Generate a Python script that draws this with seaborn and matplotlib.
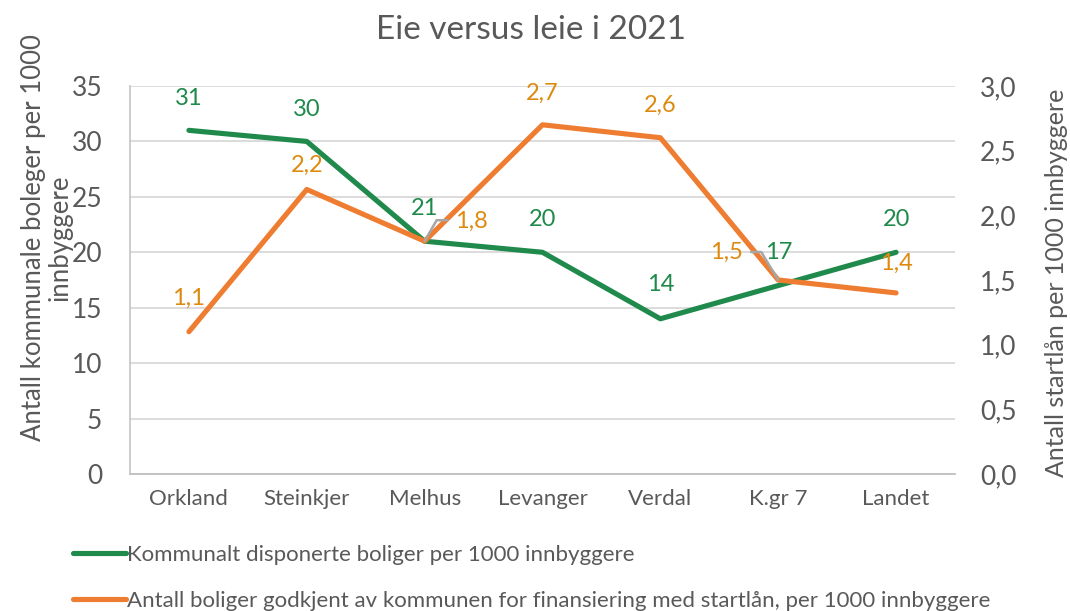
import matplotlib
matplotlib.use("Agg")
import matplotlib.pyplot as plt
from matplotlib.lines import Line2D
import seaborn as sns
import pandas as pd

# Data
kommuner = ["Orkland", "Steinkjer", "Melhus", "Levanger", "Verdal", "K.gr 7", "Landet"]
kommunale_boliger = [31, 30, 21, 20, 14, 17, 20]
startlan_boliger = [1.1, 2.2, 1.8, 2.7, 2.6, 1.5, 1.4]

serie_gronn = "Kommunalt disponerte boliger per 1000 innbyggere"
serie_oransje = "Antall boliger godkjent av kommunen for finansiering med startlån, per 1000 innbyggere"

GREEN = "#1F8A4C"
ORANGE = "#EE7D31"
GREEN_TXT = "#1E8A4A"
ORANGE_TXT = "#DE8A10"
GRAY_TXT = "#595959"
GRID = "#D9D9D9"

sns.set_style("white")
plt.rcParams["font.family"] = ["Lato", "DejaVu Sans"]

df = pd.DataFrame({"kommune": kommuner, "pos": range(len(kommuner)),
                   "kommunale": kommunale_boliger, "startlan": startlan_boliger})

fig = plt.figure(figsize=(10.70, 6.11), dpi=100)
ax = fig.add_axes([130 / 1070, 1 - 474 / 611, 825 / 1070, 388 / 611])
ax2 = ax.twinx()

LW = 3.7
sns.lineplot(data=df, x="pos", y="kommunale", ax=ax, color=GREEN, lw=LW,
             solid_capstyle="round", zorder=3)
sns.lineplot(data=df, x="pos", y="startlan", ax=ax2, color=ORANGE, lw=LW,
             solid_capstyle="round", zorder=3)

ax.set_xlim(-0.5, len(kommuner) - 0.5)
ax.set_ylim(0, 35)
ax2.set_ylim(0, 3.0)
ax.set_yticks(range(0, 36, 5))
ax2.set_yticks([i * 0.5 for i in range(7)])
ax2.set_yticklabels([f"{v:.1f}".replace(".", ",") for v in ax2.get_yticks()])
ax.set_xticks(range(len(kommuner)))
ax.set_xticklabels(kommuner)

ax.grid(axis="y", color=GRID, lw=1.3, zorder=0)
ax.set_axisbelow(True)
for a in (ax, ax2):
    for s in a.spines.values():
        s.set_visible(False)
ax.spines["left"].set_visible(True)
ax.spines["left"].set_color("#C8C8C8")
ax.spines["left"].set_linewidth(1.3)
ax.spines["bottom"].set_visible(True)
ax.spines["bottom"].set_color("#BFBFBF")
ax.spines["bottom"].set_linewidth(1.3)

ax.tick_params(axis="y", length=0, pad=20, labelsize=19, labelcolor=GRAY_TXT)
ax.tick_params(axis="x", length=0, pad=11, labelsize=16, labelcolor=GRAY_TXT)
ax2.tick_params(axis="y", length=0, pad=18, labelsize=19, labelcolor=GRAY_TXT)
ax.set_xlabel("")
ax.set_ylabel("")
ax2.set_ylabel("")

# Data labels (offsets in pixels relative to each point)
green_off = [(0, -32), (0, -32), (0, -33), (0, -33), (0, -34), (0, -33), (0, -33)]
orange_off = [(0, -33), (0, -24), (47, -20), (0, -31), (0, -32), (-52, -28), (0, -30)]
px = 72 / 100
for i, v in enumerate(kommunale_boliger):
    dx, dy = green_off[i]
    ax.annotate(f"{v}", (i, v), xytext=(dx * px, -dy * px), textcoords="offset points",
                ha="center", va="center", fontsize=17, color=GREEN_TXT, zorder=5)
for i, v in enumerate(startlan_boliger):
    dx, dy = orange_off[i]
    ax2.annotate(f"{v:.1f}".replace(".", ","), (i, v), xytext=(dx * px, -dy * px),
                 textcoords="offset points", ha="center", va="center",
                 fontsize=17, color=ORANGE_TXT, zorder=5)


# Leader lines for the moved labels
def leader(a, i, v, pts):
    x0, y0 = a.transData.transform((i, v))
    xs, ys = [x0], [y0]
    for dx, dy in pts:
        xs.append(x0 + dx)
        ys.append(y0 - dy)
    inv = a.transData.inverted()
    data = [inv.transform((xx, yy)) for xx, yy in zip(xs, ys)]
    a.plot([d[0] for d in data], [d[1] for d in data], color="#A6A6A6", lw=1.8, zorder=4)


fig.canvas.draw()
leader(ax2, 2, startlan_boliger[2], [(12, -21), (23, -21)])
leader(ax2, 5, startlan_boliger[5], [(-17, -28), (-27, -28)])

fig.text(531 / 1070, 1 - 30 / 611, "Eie versus leie i 2021", ha="center", va="center",
         fontsize=24, color=GRAY_TXT)
fig.text(47 / 1070, 1 - 238 / 611, "Antall kommunale boleger per 1000\ninnbyggere",
         rotation=90, ha="center", va="center", multialignment="center",
         fontsize=18.5, color=GRAY_TXT, linespacing=1.1)
fig.text(1057 / 1070, 1 - 283 / 611, "Antall startlån per 1000 innbyggere",
         rotation=90, ha="center", va="center", fontsize=18, color=GRAY_TXT)

# Legend
handles = [Line2D([0], [0], color=GREEN, lw=LW, solid_capstyle="round"),
           Line2D([0], [0], color=ORANGE, lw=LW, solid_capstyle="round")]
fig.legend(handles, [serie_gronn, serie_oransje], loc="upper left",
           bbox_to_anchor=(73 / 1070, 1 - 545 / 611), frameon=False, ncol=1,
           fontsize=16, labelcolor=GRAY_TXT, handlelength=2.4, handletextpad=0.05,
           labelspacing=1.15, borderaxespad=0, borderpad=0)

fig.savefig("out.png", dpi=100)
